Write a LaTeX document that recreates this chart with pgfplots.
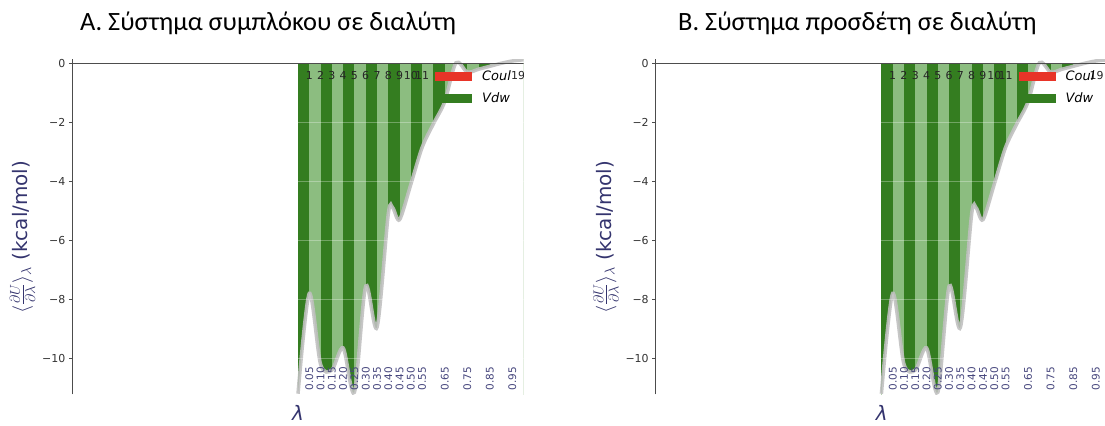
\documentclass[border=0pt]{standalone}
\usepackage{fontspec}
\setmainfont{DejaVu Sans}
\newfontfamily\titlefont{Carlito}
\usepackage{pgfplots}
\usepackage{pgfplotstable}
\pgfplotsset{compat=1.18}
\definecolor{dkg}{RGB}{52,125,32}
\definecolor{ltg}{RGB}{140,189,128}
\definecolor{navy}{RGB}{52,52,110}
\definecolor{lblnavy}{RGB}{70,70,125}
\definecolor{coul}{RGB}{232,52,40}
\definecolor{curvegray}{RGB}{192,192,192}

\pgfplotstableread{
lam val
0.00 -11.20
0.05 -7.80
0.10 -10.20
0.15 -10.40
0.20 -9.65
0.25 -11.15
0.30 -7.55
0.35 -8.95
0.40 -5.10
0.42 -4.90
0.45 -5.30
0.50 -4.10
0.55 -2.85
0.60 -2.05
0.65 -1.30
0.70 0.02
0.75 -0.30
0.80 -0.20
0.85 -0.10
0.90 0.00
0.95 0.08
1.00 0.12
}\dhdl

\pgfplotsset{dhdlaxis/.style={
  scale only axis, width=451.4bp, height=335.1bp,
  anchor=south west,
  xmin=-1, xmax=1, ymin=-11.22, ymax=0.14,
  axis y line*=left, axis x line*=bottom,
  x axis line style={draw=none},
  xtick=\empty,
  ytick={-10,-8,-6,-4,-2,0},
  yticklabels={−10,−8,−6,−4,−2,0},
  yticklabel style={font=\fontsize{11}{13}\selectfont, text=black!80},
  tick align=outside, major tick length=3.5bp,
  ytick style={black!70, line width=0.6bp},
  y axis line style={black!70, line width=0.8bp},
  ymajorgrids, grid style={white, opacity=0.3, line width=0.6bp},
  axis on top,
  legend image code/.code={\fill[##1, draw=none] (0bp,-4.5bp) rectangle (37bp,4.5bp);},
  legend style={draw=none, fill=none, at={(rel axis cs:0.8035,0.972)}, anchor=north west,
    font=\itshape\fontsize{13}{15}\selectfont, row sep=7bp, column sep=8bp,
    inner sep=0pt},
  legend cell align=left,
}}

\newcommand\dhdlcontent[1]{%
  \addplot[fill=ltg, draw=none, forget plot] coordinates {(0,-12) (1,-12) (1,1) (0,1)} --cycle;
  \addplot[fill=dkg, draw=none, forget plot] coordinates {(0,-12) (0.05,-12) (0.05,1) (0,1)} --cycle;
  \addplot[fill=dkg, draw=none, forget plot] coordinates {(0.1,-12) (0.15,-12) (0.15,1) (0.1,1)} --cycle;
  \addplot[fill=dkg, draw=none, forget plot] coordinates {(0.2,-12) (0.25,-12) (0.25,1) (0.2,1)} --cycle;
  \addplot[fill=dkg, draw=none, forget plot] coordinates {(0.3,-12) (0.35,-12) (0.35,1) (0.3,1)} --cycle;
  \addplot[fill=dkg, draw=none, forget plot] coordinates {(0.4,-12) (0.45,-12) (0.45,1) (0.4,1)} --cycle;
  \addplot[fill=dkg, draw=none, forget plot] coordinates {(0.5,-12) (0.55,-12) (0.55,1) (0.5,1)} --cycle;
  \addplot[fill=dkg, draw=none, forget plot] coordinates {(0.6,-12) (0.65,-12) (0.65,1) (0.6,1)} --cycle;
  \addplot[fill=dkg, draw=none, forget plot] coordinates {(0.7,-12) (0.75,-12) (0.75,1) (0.7,1)} --cycle;
  \addplot[fill=dkg, draw=none, forget plot] coordinates {(0.8,-12) (0.85,-12) (0.85,1) (0.8,1)} --cycle;
  \addplot[fill=dkg, draw=none, forget plot] coordinates {(0.9,-12) (0.95,-12) (0.95,1) (0.9,1)} --cycle;
  \addplot[fill=white, draw=none, smooth, forget plot] table[x=lam, y=val] {\dhdl} -- (axis cs:1.01,-13) -- (axis cs:-0.01,-13) -- cycle;
  \addplot[fill=white, draw=none, forget plot] coordinates {(-0.01,0) (1.01,0) (1.01,1) (-0.01,1)} --cycle;
  \addplot[smooth, curvegray, line width=3.5bp, opacity=0.9, forget plot] table[x=lam, y=val] {\dhdl};
  \addplot[black, line width=0.9bp, forget plot] coordinates {(-1,0) (1,0)};
  \pgfplotsinvokeforeach{1,2,3,4,5,6,7,8,9,10,11}{%
    \node[font=\fontsize{11}{13}\selectfont, text=black!85, inner sep=0pt] at (axis cs:{0.05*##1},-0.40) {##1};}
  \node[font=\fontsize{11}{13}\selectfont, text=black!85, inner sep=0pt] at (axis cs:#1,-0.40) {19};
  \pgfplotsinvokeforeach{0.05,0.10,0.15,0.20,0.25,0.30,0.35,0.40,0.45,0.50,0.55,0.65,0.75,0.85,0.95}{%
    \node[rotate=90, anchor=west, font=\fontsize{10.5}{12}\selectfont, text=lblnavy, inner sep=0pt] at (axis cs:##1,-11.1) {##1};}
  \addlegendimage{fill=coul}
  \addlegendentry{Coul}
  \addlegendimage{fill=dkg}
  \addlegendentry{Vdw}
}

\begin{document}
\begin{tikzpicture}
\useasboundingbox (0,0) rectangle (1105bp,426bp);
\node[anchor=base west, font=\titlefont\fontsize{26.5}{30}\selectfont, inner sep=0pt] at (80bp,395bp) {A. Σύστημα συμπλόκου σε διαλύτη};
\node[anchor=base west, font=\titlefont\fontsize{26.5}{30}\selectfont, inner sep=0pt] at (678bp,395bp) {B. Σύστημα προσδέτη σε διαλύτη};

\begin{axis}[dhdlaxis, at={(72.3bp,31.7bp)}]
\dhdlcontent{0.975}
\end{axis}
\begin{axis}[dhdlaxis, at={(655.7bp,31.7bp)}]
\dhdlcontent{0.953}
\end{axis}

\node[rotate=90, text=navy, font=\fontsize{20}{24}\selectfont] at (22.5bp,189bp) {$\langle\frac{\partial U}{\partial \lambda}\rangle_{\lambda}$ (kcal/mol)};
\node[rotate=90, text=navy, font=\fontsize{20}{24}\selectfont] at (606bp,189bp) {$\langle\frac{\partial U}{\partial \lambda}\rangle_{\lambda}$ (kcal/mol)};
\node[text=navy, font=\itshape\fontsize{20}{24}\selectfont] at (298bp,13bp) {λ};
\node[text=navy, font=\itshape\fontsize{20}{24}\selectfont] at (881.7bp,13bp) {λ};
\end{tikzpicture}
\end{document}
